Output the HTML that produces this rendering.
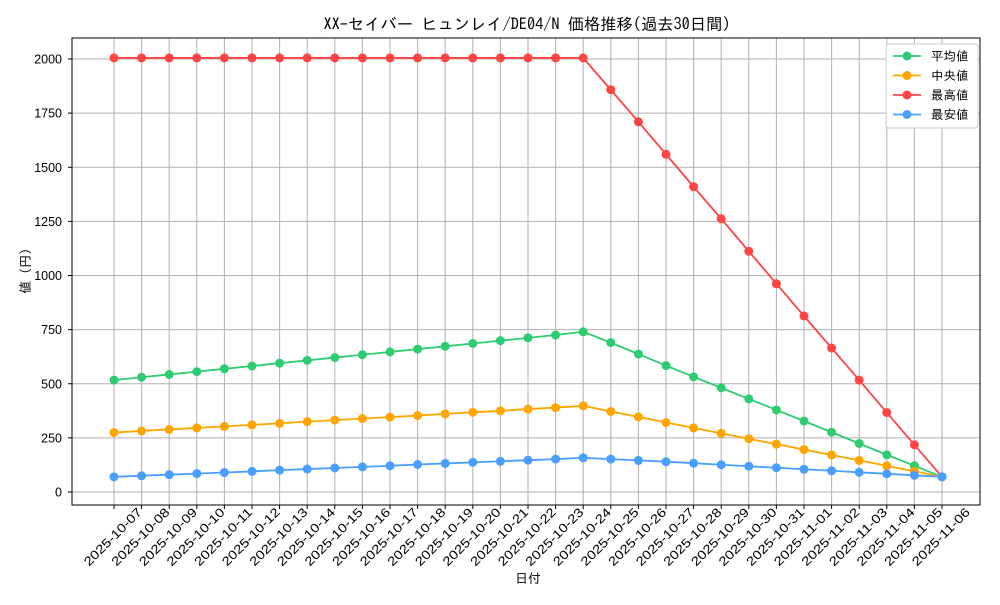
<!DOCTYPE html>
<html><head><meta charset="utf-8"><style>
body{margin:0;background:#fff;}
svg text{font-family:"IPAGothic","Liberation Sans","Noto Sans CJK JP",sans-serif;fill:#000;}
svg text.tk{font-family:"Liberation Sans",sans-serif;}
</style></head><body>
<svg id="c" width="1000" height="600" xmlns="http://www.w3.org/2000/svg"></svg>
<script>
const dates=["2025-10-07","2025-10-08","2025-10-09","2025-10-10","2025-10-11","2025-10-12","2025-10-13","2025-10-14","2025-10-15","2025-10-16","2025-10-17","2025-10-18","2025-10-19","2025-10-20","2025-10-21","2025-10-22","2025-10-23","2025-10-24","2025-10-25","2025-10-26","2025-10-27","2025-10-28","2025-10-29","2025-10-30","2025-10-31","2025-11-01","2025-11-02","2025-11-03","2025-11-04","2025-11-05","2025-11-06"];
const avgVals=[517,530,543,556,569,582,595,608,621,634,647,660,673,686,699,712,725,740,690,637,584,532,481,430,379,328,276,224,172,121,70];
const medVals=[275,282,289,296,303,310,317,325,332,339,346,353,361,368,375,383,390,398,372,347,321,296,271,246,221,196,171,146,121,96,70];
const maxVals=[2005,2005,2005,2005,2005,2005,2005,2005,2005,2005,2005,2005,2005,2005,2005,2005,2005,2005,1858,1710,1560,1410,1262,1112,962,813,665,517,367,218,70];
const minVals=[70,75,80,85,90,95,101,106,111,116,121,127,132,137,142,147,152,158,152,146,140,133,126,119,112,105,98,91,84,77,70];
const yTicks=[0,250,500,750,1000,1250,1500,1750,2000];
const seriesNames=["平均値","中央値","最高値","最安値"];

const NS="http://www.w3.org/2000/svg";
const svg=document.getElementById('c');
function el(t,a,p){const e=document.createElementNS(NS,t);for(const k in a)e.setAttribute(k,a[k]);(p||svg).appendChild(e);return e;}
const L=72,R=980,T=38,B=505;
const xs=i=>114+i*(942-114)/(dates.length-1);
const ys=v=>492-v*(492-59)/2000;

let g=el('g',{});


dates.forEach((d,i)=>{el('line',{x1:xs(i),x2:xs(i),y1:T,y2:B,stroke:'#b0b0b0','stroke-width':1},g);});
yTicks.forEach(v=>{el('line',{x1:L,x2:R,y1:ys(v),y2:ys(v),stroke:'#b0b0b0','stroke-width':1},g);});

let ax=el('g',{});


dates.forEach((d,i)=>{
  el('line',{x1:xs(i),x2:xs(i),y1:B,y2:B+4,stroke:'#000'},ax);
  const cx=xs(i)-1, cy=537;
  const t=el('text',{class:'tk',x:cx,y:cy+4,'font-size':12.5,'text-anchor':'middle',textLength:76,lengthAdjust:'spacingAndGlyphs',transform:`rotate(-45 ${cx} ${cy})`},ax);
  t.textContent=d;
  
  
});
let ay=el('g',{});


yTicks.forEach(v=>{
  el('line',{x1:L-4,x2:L,y1:ys(v),y2:ys(v),stroke:'#000'},ay);
  const t=el('text',{class:'tk',x:L-10,y:ys(v)+4.5,'font-size':12.5,'text-anchor':'end'},ay);
  t.textContent=v;
  
  
});
el('rect',{x:L,y:T,width:R-L,height:B-T,fill:'none',stroke:'#000','stroke-width':1});

const series=[[avgVals,'#2ecc71'],[medVals,'#ffa500'],[maxVals,'#ff4444'],[minVals,'#4a9eff']];
const snames=['series-average','series-median','series-max','series-min'];
series.forEach(([vals,c],si)=>{
  const sg=el('g',{});
  
  
  el('polyline',{points:vals.map((v,i)=>xs(i)+','+ys(v)).join(' '),fill:'none',stroke:c,'stroke-width':1.8},sg);
  vals.forEach((v,i)=>{const p=el('circle',{cx:xs(i),cy:ys(v),r:4.5,fill:c},sg);
    
    });
});

let tt=el('text',{x:527,y:30,'font-size':16.3,'text-anchor':'middle'});
tt.textContent='XX-セイバー ヒュンレイ/DE04/N 価格推移(過去30日間)';


let xt=el('text',{x:528,y:583,'font-size':13,'text-anchor':'middle'});
xt.textContent='日付';


let yt=el('text',{x:30,y:271,'font-size':13,'text-anchor':'middle',transform:'rotate(-90 30 271)'});
yt.textContent='値 (円)';



let lg=el('g',{});


el('rect',{x:886,y:44,width:92,height:84,fill:'#fff',stroke:'#ccc',rx:3},lg);
seriesNames.forEach((n,i)=>{
  const y=56+i*19.5;
  el('line',{x1:893,x2:921,y1:y,y2:y,stroke:series[i][1],'stroke-width':1.8},lg);
  el('circle',{cx:907,cy:y,r:4.5,fill:series[i][1]},lg);
  const t=el('text',{x:931,y:y+4.5,'font-size':12.5},lg);
  t.textContent=n;
  
  
});
</script>
</body></html>
